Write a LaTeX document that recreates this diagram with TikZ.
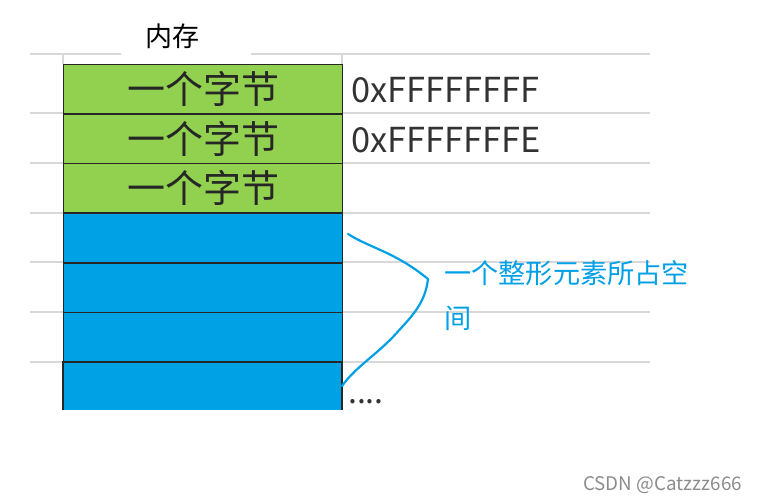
\documentclass[tikz,border=0pt]{standalone}
\usepackage{fontspec}
\setmainfont{Noto Sans CJK SC}
\newfontfamily\cjk{Noto Sans CJK SC}
\definecolor{cellgreen}{RGB}{146,208,80}
\definecolor{cellblue}{RGB}{0,162,230}
\definecolor{gridgray}{RGB}{216,216,216}
\definecolor{notecolor}{RGB}{0,160,230}
\begin{document}
\begin{tikzpicture}[x=1pt,y=-1pt,
  gridline/.style={draw=gridgray,line width=1.6pt},
  bytecell/.style={draw=black!85,fill=cellgreen,line width=1.3pt,minimum width=279pt,minimum height=49.5pt,inner sep=0pt,anchor=north west,font=\cjk\fontsize{38}{38}\selectfont,text=black!85},
  intcell/.style={draw=black!85,fill=cellblue,line width=1.3pt,minimum width=279pt,minimum height=49.5pt,inner sep=0pt,anchor=north west},
  addr/.style={anchor=west,inner sep=0pt,font=\cjk\fontsize{34.4}{34.4}\selectfont,text=black!80},
  note/.style={anchor=west,inner sep=0pt,font=\cjk\fontsize{27.2}{27.2}\selectfont,text=notecolor},
  brace/.style={draw=notecolor,line width=2.2pt,line cap=round,line join=round}]
\useasboundingbox (0,0) rectangle (758,502);
\fill[white] (0,0) rectangle (758,502);
% grid lines
\foreach \yy in {54,113,163,213,262,312,362} {
  \draw[gridline] (30,\yy) -- (650,\yy);
}
\draw[gridline] (63,54) -- (63,64);
\draw[gridline] (342,54) -- (342,64);
\fill[white] (121,30) rectangle (251,63);
% title
\node[inner sep=0pt,font=\cjk\fontsize{27}{27}\selectfont] (title) at (172,36) {内存};
% byte cells
\node[bytecell] (b1) at (63,64) {一个字节};
\node[bytecell] (b2) at (63,113.5) {一个字节};
\node[bytecell] (b3) at (63,163) {一个字节};
% int cells
\node[intcell] (i1) at (63,213) {};
\node[intcell] (i2) at (63,262.5) {};
\node[intcell] (i3) at (63,312) {};
\fill[cellblue] (63,362) rectangle (342,410);
\draw[black!85,line width=1.3pt] (63,410) -- (63,362) -- (342,362) -- (342,410);
\coordinate (i4) at (342,386);
% addresses
\node[addr] (a1) at (351,90) {0xFFFFFFFF};
\node[addr] (a2) at (351,140) {0xFFFFFFFE};
\node[anchor=west,inner sep=0pt,font=\cjk\fontsize{32}{32}\selectfont,text=black!80] (dots) at (348,402) {....};
% brace
\coordinate (bs) at (348,234);
\coordinate (bt) at (428,279);
\draw[brace] (bs) .. controls (370,248) and (395,252) .. (bt)
  .. controls (425,305) and (410,318) .. (392,338)
  .. controls (372,358) and (355,368) .. (i4);
% note
\node[note] (n1) at (444,273) {一个整形元素所占空};
\node[note] (n2) at (444,318) {间};
% watermark
\node[anchor=west,inner sep=0pt,font=\fontsize{18.8}{18.8}\selectfont,text=black!45] (wm) at (583,485) {CSDN @Catzzz666};
\end{tikzpicture}
\end{document}
